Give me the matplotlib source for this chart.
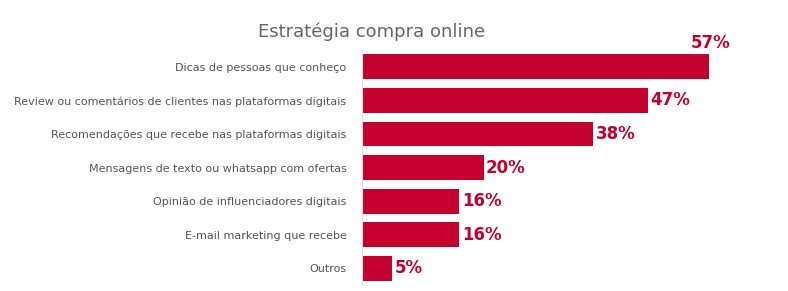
import matplotlib.pyplot as plt

categorias = ["Dicas de pessoas que conheço",
              "Review ou comentários de clientes nas plataformas digitais",
              "Recomendações que recebe nas plataformas digitais",
              "Mensagens de texto ou whatsapp com ofertas",
              "Opinião de influenciadores digitais",
              "E-mail marketing que recebe",
              "Outros"]
valores = [57, 47, 38, 20, 16, 16, 5]
rotulos = ["57%", "47%", "38%", "20%", "16%", "16%", "5%"]

vermelho = "#C4002F"
cinza = "#555555"

fig = plt.figure(figsize=(7.88, 2.91), dpi=100)
ax = fig.add_axes([0.459, 0.02, 0.52, 0.808])

pos = list(range(len(categorias)))
ax.barh(pos, valores, height=0.74, color=vermelho)
ax.set_ylim(6.5, -0.5)
ax.set_xlim(0, 67.2)
ax.set_yticks(pos)
ax.set_yticklabels(categorias, fontsize=8.0, color=cinza)
ax.tick_params(axis="y", length=0, pad=11)
ax.set_xticks([])
for s in ["top", "right", "bottom"]:
    ax.spines[s].set_visible(False)
ax.spines["left"].set_color("#dddddd")
ax.spines["left"].set_linewidth(0.8)

# rótulos de valor
for i, (v, r) in enumerate(zip(valores, rotulos)):
    if i == 0:
        ax.text(v + 0.3, i - 0.7, r, ha="center", va="center",
                fontsize=12, fontweight="bold", color=vermelho)
    else:
        ax.text(v + 0.4, i, r, ha="left", va="center",
                fontsize=12, fontweight="bold", color=vermelho)

fig.text(0.472, 0.89, "Estratégia compra online", ha="center", va="center",
         fontsize=13, color="#666666")

fig.savefig("out.png", dpi=100)
